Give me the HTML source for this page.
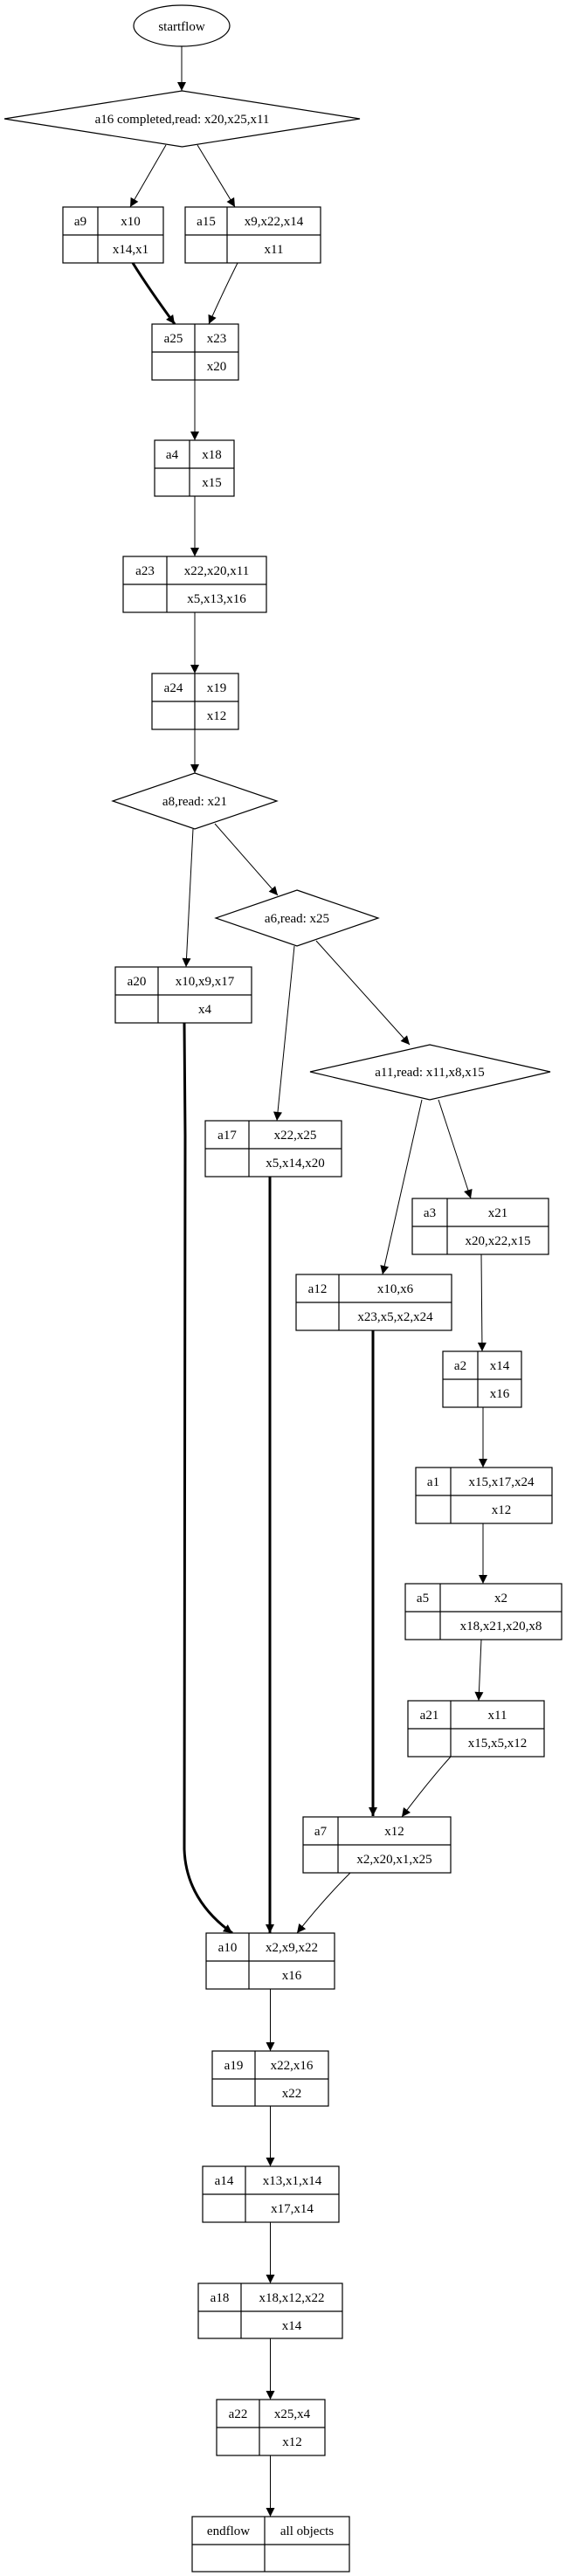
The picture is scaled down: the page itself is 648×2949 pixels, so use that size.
<!DOCTYPE html>
<html><head><meta charset="utf-8"><style>
html,body{margin:0;padding:0;background:#fff;}
svg{display:block;}
text{font-family:"Liberation Serif",serif;font-size:15px;fill:#000;text-anchor:middle;}
.b{fill:#fff;stroke:#000;stroke-width:1.2;}
.l{stroke:#000;stroke-width:1.2;fill:none;}
.e{stroke:#000;stroke-width:1;fill:none;marker-end:url(#ah);}
.eb{stroke:#000;stroke-width:3;fill:none;marker-end:url(#ah);}
</style></head><body>
<svg width="648" height="2949" viewBox="0 0 648 2949" xmlns="http://www.w3.org/2000/svg">
<defs><marker id="ah" viewBox="0 0 10 10" refX="10" refY="5" markerWidth="14" markerHeight="10" markerUnits="userSpaceOnUse" orient="auto"><path d="M0,0 L10,5 L0,10 z" fill="#000"/></marker></defs>

<!-- start -->
<ellipse cx="208" cy="29.5" rx="55" ry="23.5" class="b"/>
<text x="208" y="35">startflow</text>
<line x1="208" y1="53" x2="208" y2="104" class="e"/>
<polygon points="208.5,104 412,136 208.5,168 5,136" class="b"/>
<text x="208.5" y="141">a16 completed,read: x20,x25,x11</text>
<line x1="190" y1="166" x2="149" y2="237" class="e"/>
<line x1="226" y1="166" x2="269" y2="237" class="e"/>

<!-- a9 -->
<rect x="72" y="237" width="115" height="64" class="b"/><line x1="112" y1="237" x2="112" y2="301" class="l"/><line x1="72" y1="269" x2="187" y2="269" class="l"/>
<text x="92" y="258">a9</text><text x="149.5" y="258">x10</text><text x="149.5" y="290">x14,x1</text>
<!-- a15 -->
<rect x="212" y="237" width="155" height="64" class="b"/><line x1="260" y1="237" x2="260" y2="301" class="l"/><line x1="212" y1="269" x2="367" y2="269" class="l"/>
<text x="236" y="258">a15</text><text x="313.5" y="258">x9,x22,x14</text><text x="313.5" y="290">x11</text>

<path d="M152,301 Q170,330 200,371" class="eb"/>
<path d="M272,301 Q255,335 239,371" class="e"/>

<!-- a25 -->
<rect x="174" y="371" width="99" height="64" class="b"/><line x1="223" y1="371" x2="223" y2="435" class="l"/><line x1="174" y1="403" x2="273" y2="403" class="l"/>
<text x="198.5" y="392">a25</text><text x="248" y="392">x23</text><text x="248" y="424">x20</text>
<line x1="223" y1="435" x2="223" y2="504" class="e"/>
<!-- a4 -->
<rect x="177" y="504" width="91" height="64" class="b"/><line x1="217" y1="504" x2="217" y2="568" class="l"/><line x1="177" y1="536" x2="268" y2="536" class="l"/>
<text x="197" y="525">a4</text><text x="242.5" y="525">x18</text><text x="242.5" y="557">x15</text>
<line x1="223" y1="568" x2="223" y2="637" class="e"/>
<!-- a23 -->
<rect x="141" y="637" width="164" height="64" class="b"/><line x1="191" y1="637" x2="191" y2="701" class="l"/><line x1="141" y1="669" x2="305" y2="669" class="l"/>
<text x="166" y="658">a23</text><text x="248" y="658">x22,x20,x11</text><text x="248" y="690">x5,x13,x16</text>
<line x1="223" y1="701" x2="223" y2="771" class="e"/>
<!-- a24 -->
<rect x="174" y="771" width="99" height="64" class="b"/><line x1="223" y1="771" x2="223" y2="835" class="l"/><line x1="174" y1="803" x2="273" y2="803" class="l"/>
<text x="198.5" y="792">a24</text><text x="248" y="792">x19</text><text x="248" y="824">x12</text>
<line x1="223" y1="835" x2="223" y2="885" class="e"/>
<!-- a8 -->
<polygon points="223,885 317,917 223,949 129,917" class="b"/>
<text x="223" y="922">a8,read: x21</text>
<line x1="221" y1="949" x2="213" y2="1107" class="e"/>
<line x1="246" y1="943" x2="318" y2="1025" class="e"/>
<!-- a6 -->
<polygon points="340,1019 433,1051 340,1083 247,1051" class="b"/>
<text x="340" y="1056">a6,read: x25</text>
<line x1="337" y1="1083" x2="317" y2="1283" class="e"/>
<line x1="362" y1="1077" x2="469" y2="1196" class="e"/>
<!-- a20 -->
<rect x="132" y="1107" width="156" height="64" class="b"/><line x1="181" y1="1107" x2="181" y2="1171" class="l"/><line x1="132" y1="1139" x2="288" y2="1139" class="l"/>
<text x="156.5" y="1128">a20</text><text x="234.5" y="1128">x10,x9,x17</text><text x="234.5" y="1160">x4</text>
<!-- a11 -->
<polygon points="492,1196 630,1227 492,1259 355,1227" class="b"/>
<text x="492" y="1232">a11,read: x11,x8,x15</text>
<line x1="483" y1="1259" x2="438" y2="1459" class="e"/>
<line x1="502" y1="1259" x2="539" y2="1372" class="e"/>
<!-- a17 -->
<rect x="235" y="1283" width="156" height="64" class="b"/><line x1="285" y1="1283" x2="285" y2="1347" class="l"/><line x1="235" y1="1315" x2="391" y2="1315" class="l"/>
<text x="260" y="1304">a17</text><text x="338" y="1304">x22,x25</text><text x="338" y="1336">x5,x14,x20</text>
<!-- a3 -->
<rect x="472" y="1372" width="156" height="64" class="b"/><line x1="512" y1="1372" x2="512" y2="1436" class="l"/><line x1="472" y1="1404" x2="628" y2="1404" class="l"/>
<text x="492" y="1393">a3</text><text x="570" y="1393">x21</text><text x="570" y="1425">x20,x22,x15</text>
<!-- a12 -->
<rect x="339" y="1459" width="178" height="64" class="b"/><line x1="388" y1="1459" x2="388" y2="1523" class="l"/><line x1="339" y1="1491" x2="517" y2="1491" class="l"/>
<text x="363.5" y="1480">a12</text><text x="452.5" y="1480">x10,x6</text><text x="452.5" y="1512">x23,x5,x2,x24</text>
<line x1="551" y1="1436" x2="552" y2="1547" class="e"/>
<!-- a2 -->
<rect x="507" y="1547" width="90" height="64" class="b"/><line x1="547" y1="1547" x2="547" y2="1611" class="l"/><line x1="507" y1="1579" x2="597" y2="1579" class="l"/>
<text x="527" y="1568">a2</text><text x="572" y="1568">x14</text><text x="572" y="1600">x16</text>
<line x1="553" y1="1611" x2="553" y2="1680" class="e"/>
<!-- a1 -->
<rect x="476" y="1680" width="156" height="64" class="b"/><line x1="516" y1="1680" x2="516" y2="1744" class="l"/><line x1="476" y1="1712" x2="632" y2="1712" class="l"/>
<text x="496" y="1701">a1</text><text x="574" y="1701">x15,x17,x24</text><text x="574" y="1733">x12</text>
<line x1="553" y1="1744" x2="553" y2="1813" class="e"/>
<!-- a5 -->
<rect x="464" y="1813" width="179" height="64" class="b"/><line x1="504" y1="1813" x2="504" y2="1877" class="l"/><line x1="464" y1="1845" x2="643" y2="1845" class="l"/>
<text x="484" y="1834">a5</text><text x="573.5" y="1834">x2</text><text x="573.5" y="1866">x18,x21,x20,x8</text>
<line x1="551" y1="1877" x2="548" y2="1947" class="e"/>
<!-- a21 -->
<rect x="467" y="1947" width="156" height="64" class="b"/><line x1="516" y1="1947" x2="516" y2="2011" class="l"/><line x1="467" y1="1979" x2="623" y2="1979" class="l"/>
<text x="491.5" y="1968">a21</text><text x="569.5" y="1968">x11</text><text x="569.5" y="2000">x15,x5,x12</text>
<path d="M516,2011 Q490,2040 460,2080" class="e"/>
<!-- bold long edges -->
<path d="M211,1171 L212,1300 L211,2117 Q213,2175 266,2213" class="eb"/>
<path d="M309,1347 L309,2213" class="eb"/>
<path d="M427,1523 L427,2079" class="eb"/>
<!-- a7 -->
<rect x="347" y="2080" width="169" height="64" class="b"/><line x1="387" y1="2080" x2="387" y2="2144" class="l"/><line x1="347" y1="2112" x2="516" y2="2112" class="l"/>
<text x="367" y="2101">a7</text><text x="451.5" y="2101">x12</text><text x="451.5" y="2133">x2,x20,x1,x25</text>
<path d="M401,2144 Q370,2175 340,2213" class="e"/>
<!-- a10 -->
<rect x="236" y="2213" width="147" height="64" class="b"/><line x1="285" y1="2213" x2="285" y2="2277" class="l"/><line x1="236" y1="2245" x2="383" y2="2245" class="l"/>
<text x="260.5" y="2234">a10</text><text x="334" y="2234">x2,x9,x22</text><text x="334" y="2266">x16</text>
<line x1="309.5" y1="2277" x2="309.5" y2="2348" class="e"/>
<!-- a19 -->
<rect x="243" y="2348" width="133" height="63" class="b"/><line x1="292" y1="2348" x2="292" y2="2411" class="l"/><line x1="243" y1="2380" x2="376" y2="2380" class="l"/>
<text x="267.5" y="2369">a19</text><text x="334" y="2369">x22,x16</text><text x="334" y="2401">x22</text>
<line x1="309.5" y1="2411" x2="309.5" y2="2480" class="e"/>
<!-- a14 -->
<rect x="232" y="2480" width="156" height="64" class="b"/><line x1="281" y1="2480" x2="281" y2="2544" class="l"/><line x1="232" y1="2512" x2="388" y2="2512" class="l"/>
<text x="256.5" y="2501">a14</text><text x="334.5" y="2501">x13,x1,x14</text><text x="334.5" y="2533">x17,x14</text>
<line x1="309.5" y1="2544" x2="309.5" y2="2614" class="e"/>
<!-- a18 -->
<rect x="227" y="2614" width="165" height="63" class="b"/><line x1="276" y1="2614" x2="276" y2="2677" class="l"/><line x1="227" y1="2646" x2="392" y2="2646" class="l"/>
<text x="251.5" y="2635">a18</text><text x="334" y="2635">x18,x12,x22</text><text x="334" y="2667">x14</text>
<line x1="309.5" y1="2677" x2="309.5" y2="2747" class="e"/>
<!-- a22 -->
<rect x="248" y="2747" width="124" height="64" class="b"/><line x1="297" y1="2747" x2="297" y2="2811" class="l"/><line x1="248" y1="2779" x2="372" y2="2779" class="l"/>
<text x="272.5" y="2768">a22</text><text x="334.5" y="2768">x25,x4</text><text x="334.5" y="2800">x12</text>
<line x1="309.5" y1="2811" x2="309.5" y2="2881" class="e"/>
<!-- endflow -->
<rect x="220" y="2881" width="180" height="63" class="b"/><line x1="303" y1="2881" x2="303" y2="2944" class="l"/><line x1="220" y1="2913" x2="400" y2="2913" class="l"/>
<text x="261.5" y="2902">endflow</text><text x="351.5" y="2902">all objects</text>
</svg>
</body></html>
